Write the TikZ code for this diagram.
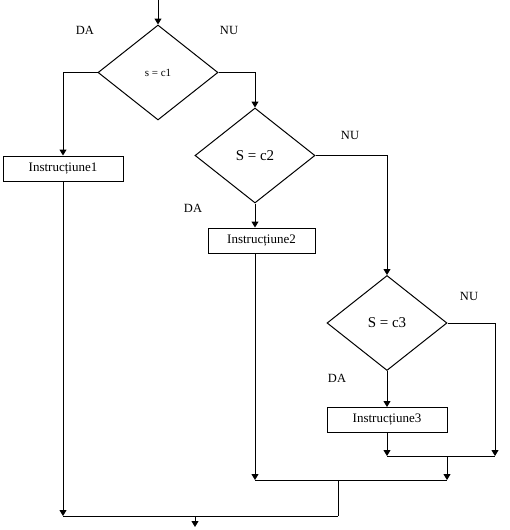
\documentclass[tikz,border=0pt]{standalone}
\usepackage{fontspec}
\setmainfont{Liberation Serif}
\usetikzlibrary{shapes.geometric,arrows.meta}
\begin{document}
\begin{tikzpicture}[x=1pt,y=-1pt,
  line width=1pt,
  arr/.style={-{Triangle[width=7pt,length=6pt]}},
  dia/.style={draw,diamond,inner sep=0pt,minimum width=120pt,minimum height=95pt},
  box/.style={draw,rectangle,inner sep=0pt,minimum height=25pt,font=\fontsize{13}{14}\selectfont},
  lbl/.style={font=\fontsize{12.5}{14}\selectfont,inner sep=0pt}]
\useasboundingbox (0,0) rectangle (510,530);
\fill[white] (0,0) rectangle (510,530);
% nodes
\coordinate (start) at (158,0);
\node[dia,font=\fontsize{11}{12}\selectfont] (d1) at (158,72.5) {s = c1};
\node[dia,font=\fontsize{15}{16}\selectfont] (d2) at (255,155.5) {S = c2};
\node[dia,font=\fontsize{15}{16}\selectfont] (d3) at (387,323) {S = c3};
\node[box,minimum width=120pt] (b1) at (63,168.5) {Instrucțiune1};
\node[box,minimum width=107pt] (b2) at (261.5,240.5) {Instrucțiune2};
\node[box,minimum width=120pt] (b3) at (387,420) {Instrucțiune3};
\node[lbl] (da1) at (85,30) {DA};
\node[lbl] (nu1) at (229,30) {NU};
\node[lbl] (nu2) at (350,135) {NU};
\node[lbl] (da2) at (193,208) {DA};
\node[lbl] (nu3) at (469,296) {NU};
\node[lbl] (da3) at (337,378) {DA};
\coordinate (j3l) at (387,456);
\coordinate (j3r) at (495,456);
\coordinate (j3m) at (447,456);
\coordinate (j2l) at (255,480);
\coordinate (j2r) at (447,480);
\coordinate (j2m) at (338,480);
\coordinate (j1l) at (63,516);
\coordinate (j1r) at (338,516);
\coordinate (j1m) at (195,516);
\coordinate (end) at (195,527);
% connectors
\draw[arr] (start) -- (d1.north);
\draw[arr] (d1.west) -| (b1.north);
\draw[arr] (d1.east) -| (d2.north);
\draw[arr] (d2.south) -- (d2.south |- b2.north);
\draw[arr] (d2.east) -| (d3.north);
\draw[arr] (d3.south) -- (b3.north);
\draw[arr] (d3.east) -| (j3r);
\draw[arr] (b3.south) -- (j3l);
\draw (j3l) -- (j3r);
\draw[arr] (j3m) -- (j2r);
\draw[arr] (b2.south -| d2.south) -- (j2l);
\draw (j2l) -- (j2r);
\draw (j2m) -- (j1r);
\draw[arr] (b1.south) -- (j1l);
\draw (j1l) -- (j1r);
\draw[arr] (j1m) -- (end);
\end{tikzpicture}
\end{document}
